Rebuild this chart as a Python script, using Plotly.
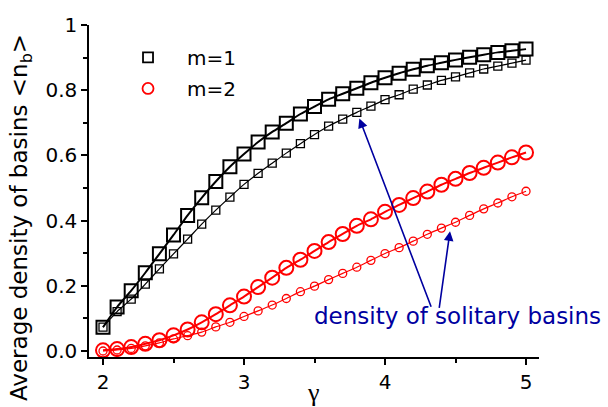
import plotly.graph_objects as go

# ---- data ----
gamma = [2.0, 2.1, 2.2, 2.3, 2.4, 2.5, 2.6, 2.7, 2.8, 2.9, 3.0,
         3.1, 3.2, 3.3, 3.4, 3.5, 3.6, 3.7, 3.8, 3.9, 4.0,
         4.1, 4.2, 4.3, 4.4, 4.5, 4.6, 4.7, 4.8, 4.9, 5.0]

m1_total = [0.073, 0.135, 0.185, 0.240, 0.298, 0.356, 0.416, 0.470, 0.520, 0.565, 0.604,
            0.641, 0.672, 0.699, 0.727, 0.750, 0.772, 0.789, 0.806, 0.823, 0.838,
            0.852, 0.864, 0.875, 0.884, 0.893, 0.901, 0.909, 0.916, 0.921, 0.926]
m1_solitary = [0.073, 0.121, 0.159, 0.205, 0.252, 0.298, 0.343, 0.389, 0.432, 0.472, 0.511,
               0.545, 0.576, 0.607, 0.636, 0.664, 0.690, 0.711, 0.732, 0.751, 0.771,
               0.786, 0.803, 0.816, 0.830, 0.841, 0.853, 0.865, 0.874, 0.883, 0.892]
m2_total = [0.002, 0.006, 0.012, 0.022, 0.033, 0.048, 0.066, 0.088, 0.113, 0.140, 0.167,
            0.196, 0.225, 0.255, 0.280, 0.307, 0.334, 0.359, 0.384, 0.404, 0.427,
            0.448, 0.469, 0.489, 0.510, 0.528, 0.546, 0.562, 0.578, 0.594, 0.609]
m2_solitary = [0.000, 0.003, 0.008, 0.016, 0.025, 0.037, 0.047, 0.058, 0.074, 0.088, 0.106,
               0.123, 0.141, 0.161, 0.182, 0.199, 0.219, 0.238, 0.257, 0.278, 0.299,
               0.317, 0.337, 0.358, 0.377, 0.395, 0.416, 0.436, 0.454, 0.473, 0.490]

series_names = ["m=1", "m=2"]
x_tickvals = [2, 3, 4, 5]
x_ticktext = ["2", "3", "4", "5"]
y_tickvals = [0.0, 0.2, 0.4, 0.6, 0.8, 1.0]
y_ticktext = ["0.0", "0.2", "0.4", "0.6", "0.8", "1"]

ylabel = "Average density of basins &lt;n<sub>b</sub>&gt;"
xlabel = "γ"
note = "density of solitary basins"
arrow1_head = (3.818, 0.7135)
arrow1_tail = (4.331, 0.131)
arrow2_head = (4.461, 0.3675)
arrow2_tail = (4.383, 0.128)

FONT = "DejaVu Sans"
NAVY = "#0000A0"
PAD = "\u00a0\u00a0\u00a0"

fig = go.Figure()

# fitted lines + markers
fig.add_trace(go.Scatter(x=gamma, y=m1_total, mode="lines+markers", showlegend=False,
                         line=dict(color="black", width=2, shape="spline", smoothing=0.6),
                         marker=dict(symbol="square-open", size=13, color="black",
                                     line=dict(width=2))))
fig.add_trace(go.Scatter(x=gamma, y=m1_solitary, mode="lines+markers", showlegend=False,
                         line=dict(color="black", width=1.2, shape="spline", smoothing=0.6),
                         marker=dict(symbol="square-open", size=8, color="black",
                                     line=dict(width=1.3))))
fig.add_trace(go.Scatter(x=gamma, y=m2_total, mode="lines+markers", showlegend=False,
                         line=dict(color="red", width=2, shape="spline", smoothing=0.6),
                         marker=dict(symbol="circle-open", size=14, color="red",
                                     line=dict(width=2))))
fig.add_trace(go.Scatter(x=gamma, y=m2_solitary, mode="lines+markers", showlegend=False,
                         line=dict(color="red", width=1.2, shape="spline", smoothing=0.6),
                         marker=dict(symbol="circle-open", size=8, color="red",
                                     line=dict(width=1.3))))

# legend entries
fig.add_trace(go.Scatter(x=[None], y=[None], mode="markers", name=PAD + series_names[0],
                         legendgroup="a",
                         marker=dict(symbol="square-open", size=10, color="black",
                                     line=dict(width=1.8))))
fig.add_trace(go.Scatter(x=[None], y=[None], mode="markers", name=PAD + series_names[1],
                         legendgroup="b",
                         marker=dict(symbol="circle-open", size=11, color="red",
                                     line=dict(width=1.8))))

axis_common = dict(showline=True, linecolor="black", linewidth=1.5,
                   ticks="outside", ticklen=6, tickwidth=1.5, tickcolor="black",
                   showgrid=False, zeroline=False, mirror=False,
                   tickfont=dict(family=FONT, size=20, color="black"))

fig.update_xaxes(range=[1.9007, 5.092], tickvals=x_tickvals, ticktext=x_ticktext,
                 minor=dict(dtick=0.5, tick0=2, ticks="outside", ticklen=4,
                            tickwidth=1.5, tickcolor="black", showgrid=False),
                 **axis_common)
fig.update_yaxes(range=[-0.0184, 1.0], tickvals=y_tickvals, ticktext=y_ticktext,
                 minor=dict(dtick=0.1, tick0=0, ticks="outside", ticklen=4,
                            tickwidth=1.5, tickcolor="black", showgrid=False),
                 **axis_common)

annotations = [
    dict(text=ylabel, xref="paper", yref="paper", x=-0.151, y=0.4187,
         textangle=-90, showarrow=False, xanchor="center", yanchor="middle",
         font=dict(family=FONT, size=23, color="black")),
    dict(text=xlabel, xref="paper", yref="paper", x=0.498, y=-0.108,
         showarrow=False, xanchor="center", yanchor="middle",
         font=dict(family="Liberation Serif", size=26, color="black")),
    dict(text=note, xref="paper", yref="paper", x=0.8198, y=0.1235,
         showarrow=False, xanchor="center", yanchor="middle",
         font=dict(family=FONT, size=23, color=NAVY)),
]
for head, tail in [(arrow1_head, arrow1_tail), (arrow2_head, arrow2_tail)]:
    annotations.append(dict(x=head[0], y=head[1], ax=tail[0], ay=tail[1],
                            xref="x", yref="y", axref="x", ayref="y", text="",
                            showarrow=True, arrowhead=2, arrowsize=1.2,
                            arrowwidth=1.6, arrowcolor=NAVY))

fig.update_layout(
    width=608, height=407,
    margin=dict(l=89, r=69, t=25, b=50),
    plot_bgcolor="white", paper_bgcolor="white",
    annotations=annotations,
    legend=dict(x=0.0867, y=0.961, xanchor="left", yanchor="top",
                bgcolor="rgba(0,0,0,0)", tracegroupgap=2, traceorder="grouped",
                font=dict(family=FONT, size=20, color="black")),
    font=dict(family=FONT),
)

fig.write_html("out.html", config={"displayModeBar": False},
               post_script="document.body.style.margin='0';")
